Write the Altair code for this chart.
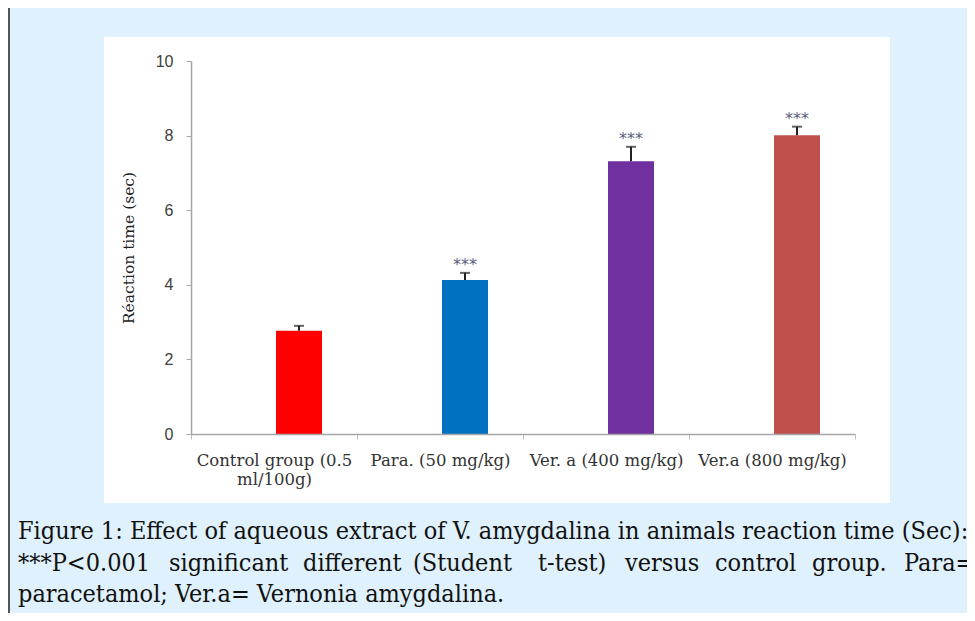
import altair as alt
import pandas as pd

groups = ["Control group (0.5 ml/100g)", "Para. (50 mg/kg)", "Ver. a (400 mg/kg)", "Ver.a (800 mg/kg)"]
means = [2.77, 4.13, 7.31, 8.01]
errors = [0.13, 0.19, 0.39, 0.23]
stars = ["", "***", "***", "***"]
colors = ["#FF0000", "#0070C0", "#7030A0", "#C0504D"]
y_ticks = [0, 2, 4, 6, 8, 10]

caption_line1 = "Figure 1: Effect of aqueous extract of V. amygdalina in animals reaction time (Sec):"
caption_line2_words = ["***P<0.001", "significant", "different", "(Student", "t-test)", "versus", "control", "group.", "Para="]
caption_line3 = "paracetamol; Ver.a= Vernonia amygdalina."

# layout (pixels relative to plot origin) for the justified second caption line
word_x = [-173, -22, 112, 222, 347, 434, 524, 621, 713]

df = pd.DataFrame({"group": groups, "mean": means, "err": errors, "stars": stars, "color": colors})
df["top"] = df["mean"] + df["err"]

W, H = 664, 373
xenc = alt.X("group:N", sort=groups,
             scale=alt.Scale(domain=groups, paddingInner=0, paddingOuter=0),
             axis=alt.Axis(title=None, labelAngle=0, tickBand="extent", tickSize=5,
                           tickColor="#bfbfbf", domainColor="#a6a6a6", domainWidth=1.5,
                           labelFont="DejaVu Serif", labelFontSize=16.5, labelColor="#333333",
                           labelPadding=13, labelLineHeight=19, labelLimit=300, zindex=1,
                           labelExpr="datum.value == 'Control group (0.5 ml/100g)' ? ['Control group (0.5', 'ml/100g)'] : datum.label"))
yscale = alt.Scale(domain=[0, 10], nice=False)

dummy = pd.DataFrame({"a": [0]})

panel = alt.Chart(dummy).mark_rect(color="white").encode(
    x=alt.value(-87), x2=alt.value(699), y=alt.value(-24), y2=alt.value(442))

border = alt.Chart(dummy).mark_rule(color="#555555", strokeWidth=2).encode(
    x=alt.value(-182), y=alt.value(-70), y2=alt.value(600))

bars = alt.Chart(df).mark_bar(width=46, xOffset=25).encode(
    x=xenc,
    y=alt.Y("mean:Q", scale=yscale,
            axis=alt.Axis(title="Réaction time (sec)", values=y_ticks, grid=False, tickSize=5,
                          tickColor="#a6a6a6", domainColor="#a6a6a6", domainWidth=1.5,
                          labelFont="Liberation Sans", labelFontSize=16, labelColor="#404040",
                          labelPadding=13, titleFont="DejaVu Serif", titleFontSize=15.5,
                          titleFontWeight="normal", titleColor="#222222", titlePadding=19, zindex=1)),
    color=alt.Color("color:N", scale=None),
)

rules = alt.Chart(df).mark_rule(color="#222222", strokeWidth=2, xOffset=25).encode(
    x=alt.X("group:N", sort=groups), y=alt.Y("mean:Q", scale=yscale), y2="top:Q")

caps = alt.Chart(df).mark_tick(color="#222222", thickness=2, size=10, xOffset=25, orient="horizontal").encode(
    x=alt.X("group:N", sort=groups), y=alt.Y("top:Q", scale=yscale))

star_text = alt.Chart(df).mark_text(dx=25, dy=-8, fontSize=16, color="#5a6080", font="DejaVu Sans").encode(
    x=alt.X("group:N", sort=groups), y=alt.Y("top:Q", scale=yscale), text="stars:N")

cap_font = "DejaVu Serif Condensed"
cap1 = alt.Chart(pd.DataFrame({"t": [caption_line1]})).mark_text(
    align="left", baseline="middle", font=cap_font, fontSize=25, color="#111111").encode(
    x=alt.value(-173), y=alt.value(470), text="t:N")
cap2 = alt.Chart(pd.DataFrame({"t": caption_line2_words, "x": word_x})).mark_text(
    align="left", baseline="middle", font=cap_font, fontSize=25, color="#111111").encode(
    x=alt.X("x:Q", scale=None), y=alt.value(502), text="t:N")
cap3 = alt.Chart(pd.DataFrame({"t": [caption_line3]})).mark_text(
    align="left", baseline="middle", font=cap_font, fontSize=25, color="#111111").encode(
    x=alt.value(-173), y=alt.value(533), text="t:N")

chart = alt.layer(panel, border, bars, rules, caps, star_text, cap1, cap2, cap3).properties(
    width=W, height=H,
    autosize=alt.AutoSizeParams(type="none"),
    padding={"left": 183, "top": 53, "right": 112, "bottom": 179},
    background="#dff1fc",
).configure_view(stroke=None)

chart.save("out.html", embed_options={"renderer": "svg", "actions": False})
